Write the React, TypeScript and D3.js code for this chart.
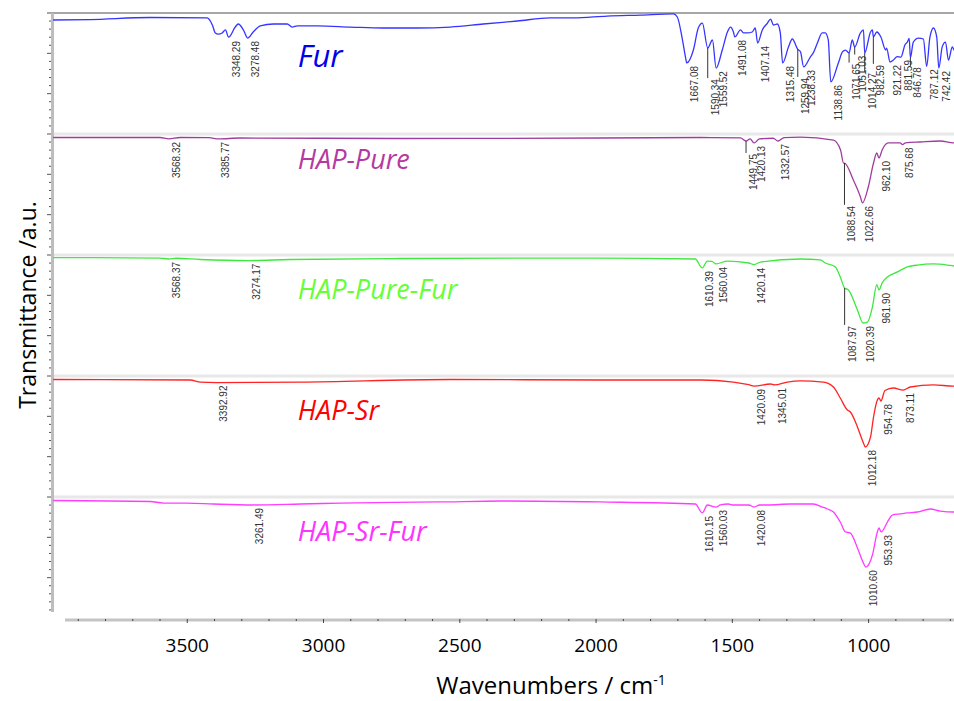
import React from "react";
import * as d3 from "d3";

// sample order, top to bottom
const samples = ["Fur", "HAP-Pure", "HAP-Pure-Fur", "HAP-Sr", "HAP-Sr-Fur"];

// spectra: [wavenumber, transmittance a.u. (0-100 within each panel)]
const furSpectrum: [number, number][] = [
  [3992, 94.2], [3856, 94.6], [3636, 96.3], [3427, 95.9], [3408, 90.1], [3397, 83.5], [3386, 82.6],
  [3372, 83.5], [3360, 86], [3348.29, 80], [3324, 88.4], [3313, 90.9], [3294, 86], [3278.48, 79.3],
  [3258, 84.3], [3232, 89.3], [3184, 90.9], [3133, 90.9], [3115, 88.4], [3096, 89.3], [3023, 89.3],
  [2902, 88.4], [2781, 87.6], [2656, 87.6], [2535, 88.4], [2414, 90.9], [2289, 93.4], [2168, 95.9],
  [2083, 95.9], [1959, 97.5], [1838, 98.3], [1716, 99.2], [1702, 96.7], [1683, 77.7], [1672, 63.6],
  [1667.08, 58.7], [1643, 69.4], [1625, 87.6], [1610, 91.7], [1590.34, 71.1], [1573, 77.7],
  [1559.52, 54.5], [1537, 69.4], [1518, 84.3], [1507, 88.4], [1496, 84.3], [1491.08, 80.2],
  [1470, 86], [1459, 83.5], [1445, 83.5], [1427, 84.3], [1416, 87.6], [1407.14, 75.2], [1390, 86],
  [1371, 91.7], [1360, 95], [1349, 90.1], [1335, 90.9], [1324, 83.5], [1315.48, 58.7], [1294, 71.9],
  [1280, 78.5], [1259.94, 70], [1250, 68], [1238.33, 55.4], [1214, 63.6], [1203, 67], [1188, 75.2],
  [1170, 83.5], [1159, 83.5], [1148, 77.7], [1138.86, 43], [1111, 58.7], [1096, 67.8], [1085, 69.4],
  [1071.65, 67], [1060, 77.7], [1051.03, 71.9], [1030, 83.5], [1019, 86], [1014.27, 67], [993, 84.3],
  [986, 86], [982.59, 80.2], [970, 84.3], [955, 80.2], [937, 69.4], [934, 71], [921.22, 59.5],
  [910, 61], [895, 64], [881.59, 63.6], [866, 74], [858, 76], [851, 79], [846.78, 63], [836, 76],
  [817, 79.3], [799, 78.5], [787.12, 56], [775, 80], [762, 87.6], [750, 80], [742.42, 54.5],
  [730, 72], [718, 76], [707, 61], [693, 71.9], [685, 69], [650, 75],
];
const furPeaks = [
  3348.29, 3278.48, 1667.08, 1590.34, 1559.52, 1491.08, 1407.14, 1315.48, 1259.94, 1238.33, 1138.86,
  1071.65, 1051.03, 1014.27, 982.59, 921.22, 881.59, 846.78, 787.12, 742.42,
];
const purePeaks = [3568.32, 3385.77, 1449.75, 1420.13, 1332.57, 1088.54, 1022.66, 962.1, 875.68];
const pureSpectrum: [number, number][] = [
  [3992, 97.1], [3600, 97.1], [3568.32, 95.9], [3526, 97.1], [3420, 97], [3385.77, 95.9], [3306, 96.7],
  [2718, 96.3], [1984, 96.7], [1617, 97.1], [1470, 96.8], [1449.75, 94.2], [1435, 96], [1420.13, 92.6],
  [1400, 96], [1350, 96.5], [1332.57, 94.2], [1310, 97], [1250, 97.5], [1129, 95], [1103, 86.8],
  [1092, 76], [1088.54, 76], [1056, 62], [1030, 48], [1022.66, 43], [1001, 56.4], [982, 76],
  [970, 84.3], [962.1, 80.2], [950, 87], [928, 92.6], [884, 92.6], [875.68, 91.3], [865, 92.6],
  [810, 93.4], [737, 94.2], [689, 92.6], [650, 93],
];
const pureFurPeaks = [3568.37, 3274.17, 1610.39, 1560.04, 1420.14, 1087.97, 1020.39, 961.9];
const pureFurSpectrum: [number, number][] = [
  [3992, 97.9], [3600, 97.5], [3568.37, 96.7], [3540, 97.3], [3452, 96.3], [3274.17, 95.4], [3122, 96.3],
  [2718, 97.1], [1984, 97.5], [1636, 96.7], [1610.39, 89.3], [1592, 95], [1575, 94.8], [1560.04, 92.6],
  [1518, 95], [1440, 93.4], [1420.14, 92.1], [1397, 94.2], [1250, 96.7], [1177, 95.9], [1159, 93.4],
  [1122, 90.1], [1104, 81.8], [1087.97, 72.7], [1074, 71.1], [1041, 54.5], [1020.39, 43.8],
  [1004, 44.6], [986, 57], [970, 75.5], [961.9, 71.1], [950, 77], [931, 81.8], [894, 86], [858, 90.1],
  [821, 91.7], [762, 92.6], [711, 91.7], [685, 90.9], [650, 91],
];
const srPeaks = [3392.92, 1420.09, 1345.01, 1012.18, 954.78, 873.11];
const srSpectrum: [number, number][] = [
  [3992, 97.1], [3489, 96.7], [3452, 95], [3392.92, 94.6], [3085, 95], [2535, 97.1], [1984, 96.7],
  [1617, 96.7], [1496, 95], [1440, 92.8], [1420.09, 91.7], [1360, 93.4], [1345.01, 92.6], [1298, 95],
  [1250, 95.9], [1166, 95], [1129, 90.9], [1104, 81.8], [1078, 71.9], [1067, 70.2], [1041, 57.9],
  [1019, 44.6], [1012.18, 41.3], [993, 49.6], [982, 66.1], [968, 80.2], [962, 81.8], [954.78, 79.3],
  [940, 88], [909, 90.1], [873.11, 88.4], [847, 90.9], [762, 92.6], [689, 91.7], [650, 92],
];
const srFurPeaks = [3261.49, 1610.15, 1560.03, 1420.08, 1010.6, 953.93];
const srFurSpectrum: [number, number][] = [
  [3992, 97.1], [3636, 96.3], [3588, 95], [3500, 95], [3405, 94.2], [3261.49, 93.4], [3085, 94.2],
  [2938, 95], [2571, 95.9], [2351, 96.7], [1984, 95.9], [1636, 94.2], [1610.15, 86.8], [1592, 93.4],
  [1560.03, 91.7], [1544, 93.4], [1515, 94.2], [1496, 93.4], [1440, 93.4], [1420.08, 91.7],
  [1400, 93.4], [1371, 93.4], [1287, 94.2], [1203, 94.2], [1170, 91.7], [1151, 90.1], [1129, 87.6],
  [1104, 79.3], [1085, 71.1], [1067, 70.2], [1041, 57.9], [1019, 45.5], [1010.6, 42.1], [986, 52.1],
  [968, 71.1], [962, 74.4], [953.93, 71.1], [931, 79.3], [913, 85.1], [884, 86], [858, 86.8],
  [821, 87.6], [773, 90.1], [737, 88.4], [685, 87.6], [650, 88],
];

const spectra = [furSpectrum, pureSpectrum, pureFurSpectrum, srSpectrum, srFurSpectrum];
const peaks = [furPeaks, purePeaks, pureFurPeaks, srPeaks, srFurPeaks];
const majorTicks = [3500, 3000, 2500, 2000, 1500, 1000];

// looks
const lineColors = ["#3535ff", "#a03ca0", "#3fe83f", "#ff2323", "#ff3cff"];
const nameColors = ["#0000ee", "#b5399f", "#66ff33", "#ff0000", "#ff33ff"];
const nameSize = [31, 27, 27, 27, 27];
const nameDy = [54, 35, 44, 44, 44];

const W = 954;
const H = 701;
const x = d3.scaleLinear().domain([4000, 650]).range([51, 964]);
const band = d3.scaleBand().domain(samples).range([13, 618]);

function valueAt(s: [number, number][], w: number) {
  if (w >= s[0][0]) return s[0][1];
  for (let i = 1; i < s.length; i++) {
    if (w >= s[i][0]) {
      const [w0, v0] = s[i - 1];
      const [w1, v1] = s[i];
      return v0 + ((w - w0) / (w1 - w0)) * (v1 - v0);
    }
  }
  return s[s.length - 1][1];
}

// peak labels sit under the curve just right of the peak; crowded ones get pushed down
function layoutLabels(s: [number, number][], list: number[], y: d3.ScaleLinear<number, number>) {
  const items = list
    .map((p) => {
      const px = x(p);
      let maxY = -Infinity;
      for (let k = 0; k <= 20; k++) {
        const yy = y(valueAt(s, x.invert(px + k)));
        if (yy > maxY) maxY = yy;
      }
      return { p, px, py: y(valueAt(s, p)), top: maxY + 3 };
    })
    .sort((a, b) => b.px - a.px);
  for (let i = 1; i < items.length; i++) {
    const prev = items[i - 1];
    const cur = items[i];
    if (prev.px - cur.px < 9 && cur.top < prev.top + 8 && cur.top + 38 > prev.top) cur.top = prev.top + 8;
  }
  return items;
}

export default function App() {
  const minor = d3.range(3900, 650, -100);
  return (
    <svg width={W} height={H} style={{ position: "absolute", left: 0, top: 0, background: "#fff" }}>
      {/* top border */}
      <line x1={47} x2={W} y1={13} y2={13} stroke="#a6a6a6" strokeWidth={2} />
      {samples.slice(1).map((s) => (
        <line key={s} x1={53} x2={W} y1={band(s)!} y2={band(s)!} stroke="#e8e8e8" strokeWidth={3} />
      ))}

      {/* y axis */}
      <line x1={52.5} x2={52.5} y1={13} y2={612} stroke="#bdbdbd" strokeWidth={3} />
      {samples.map((s) => {
        const top = band(s)!;
        const y = d3.scaleLinear().domain([0, 100]).range([top + band.bandwidth(), top]);
        return (
          <g key={s}>
            {d3.range(0, 15).map((k) => {
              const yy = y((k * 100) / 15);
              if (yy > 612) return null;
              const major = k % 5 === 0;
              return (
                <line key={k} x1={major ? 47 : 49} x2={51} y1={yy} y2={yy} stroke="#555" strokeWidth={1} />
              );
            })}
          </g>
        );
      })}

      {/* x axis */}
      <line x1={65} x2={W} y1={620} y2={620} stroke="#c4c4c4" strokeWidth={3} />
      {minor.map((t) => {
        const major = t % 500 === 0;
        return <line key={t} x1={x(t)} x2={x(t)} y1={619} y2={major ? 623 : 621} stroke="#444" strokeWidth={1} />;
      })}
      {majorTicks.map((t) => (
        <text key={t} x={x(t)} y={652} textAnchor="middle" fontFamily="Open Sans" fontSize={19} fill="#000">
          {t}
        </text>
      ))}
      <text x={551} y={694} textAnchor="middle" fontFamily="Open Sans" fontSize={24} fill="#000">
        Wavenumbers / cm<tspan dy={-9} fontSize={14}>-1</tspan>
      </text>
      <text
        transform={`translate(36,${305}) rotate(-90)`}
        textAnchor="middle"
        fontFamily="Open Sans"
        fontSize={23}
        fill="#000"
      >
        Transmittance /a.u.
      </text>

      {/* spectra */}
      {samples.map((s, i) => {
        const top = band(s)!;
        const y = d3.scaleLinear().domain([0, 100]).range([top + band.bandwidth(), top]);
        const line = d3
          .line<[number, number]>()
          .x((d) => x(d[0]))
          .y((d) => y(d[1]))
          .curve(d3.curveMonotoneX);
        const labels = layoutLabels(spectra[i], peaks[i], y);
        return (
          <g key={s}>
            <path d={line(spectra[i]) || ""} fill="none" stroke={lineColors[i]} strokeWidth={1.3} />
            {labels.map((l) => (
              <g key={l.p}>
                {l.top - l.py > 6 && (
                  <line x1={l.px} x2={l.px} y1={l.py} y2={l.top - 1} stroke="#333" strokeWidth={1} />
                )}
                <text
                  transform={`translate(${l.px + 11},${l.top}) rotate(-90)`}
                  textAnchor="end"
                  fontFamily="Liberation Sans, Arial"
                  fontSize={10}
                  fill="#333"
                >
                  {l.p.toFixed(2)}
                </text>
              </g>
            ))}
            <text
              x={x(3095)}
              y={top + nameDy[i]}
              fontFamily="Open Sans"
              fontStyle="italic"
              fontSize={nameSize[i]}
              fill={nameColors[i]}
            >
              {s}
            </text>
          </g>
        );
      })}
    </svg>
  );
}
